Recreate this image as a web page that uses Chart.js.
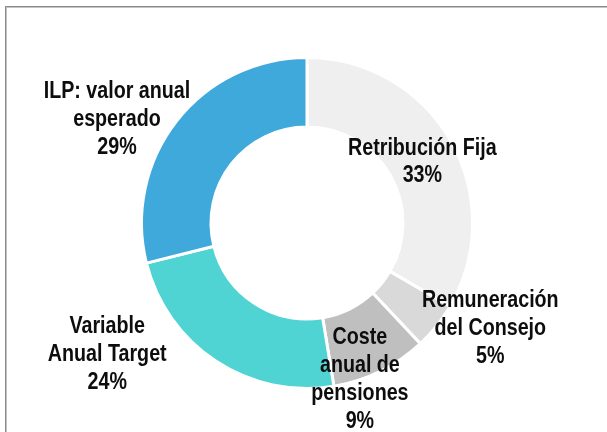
<!DOCTYPE html>
<html lang="es">
<head>
  <meta charset="UTF-8" />
  <title>Remuneración</title>
  <script src="https://cdn.jsdelivr.net/npm/chart.js"></script>
  <style>
    html, body {
      margin: 0;
      padding: 0;
      background: #ffffff;
      overflow: hidden;
    }

    .frame {
      position: absolute;
      left: 5px;
      top: 6px;
      width: 700px;
      height: 500px;
      border-left: 1px solid #8a8a8a;
      border-top: 1px solid #8a8a8a;
      box-shadow: inset 1px 1px 0 #c4c4c4;
    }

    .chart-container {
      position: absolute;
      left: 0;
      top: 0;
      width: 607px;
      height: 432px;
    }
  </style>
</head>
<body>

  <div class="frame"></div>
  <div class="chart-container">
    <canvas id="pieChart"></canvas>
  </div>

  <script>
    // categories (lines of each label) and shares
    const categories = [
      ["Retribución Fija"],
      ["Remuneración", "del Consejo"],
      ["Coste", "anual de", "pensiones"],
      ["Variable", "Anual Target"],
      ["ILP: valor anual", "esperado"]
    ];
    const shareValues = [33.4, 4.6, 9.4, 23.7, 28.9];
    const sliceColors = ["#efefef", "#d9d9d9", "#bfbfbf", "#50d3d3", "#3fa9dc"];

    // where each label sits, relative to the middle of its slice
    const labelOffsets = [[2, 4], [81, 24], [-5, 39], [-128, 22], [-87, -23]];

    const total = shareValues.reduce((a, b) => a + b, 0);

    // Excel-like data labels
    const sliceLabels = {
      id: "sliceLabels",
      afterDatasetsDraw(chart) {
        const ctx = chart.ctx;
        const arcs = chart.getDatasetMeta(0).data;
        ctx.save();
        ctx.font = "bold 24px 'Liberation Sans Narrow', 'Arial Narrow', sans-serif";
        let squeeze = 1;
        if (ctx.measureText("ILP: valor anual").width > 165) {
          ctx.font = "bold 24px 'Liberation Sans', Arial, sans-serif";
          squeeze = 0.82;
        }
        ctx.fillStyle = "#0d0d0d";
        ctx.textAlign = "center";
        ctx.textBaseline = "middle";
        const lineH = 27.8;
        arcs.forEach((arc, i) => {
          const p = arc.tooltipPosition();
          const x = p.x + labelOffsets[i][0];
          const y = p.y + labelOffsets[i][1];
          const lines = categories[i].concat([Math.round(shareValues[i] / total * 100) + "%"]);
          const top = y - (lines.length - 1) * lineH / 2;
          lines.forEach((t, j) => {
            ctx.save();
            ctx.translate(x, top + j * lineH);
            ctx.scale(squeeze, 1);
            ctx.fillText(t, 0, 0);
            ctx.restore();
          });
        });
        ctx.restore();
      }
    };

    new Chart(document.getElementById("pieChart"), {
      type: "doughnut",
      data: {
        labels: categories.map(c => c.join(" ")),
        datasets: [{
          data: shareValues,
          backgroundColor: sliceColors,
          borderColor: "#ffffff",
          borderWidth: 3
        }]
      },
      options: {
        responsive: true,
        maintainAspectRatio: false,
        animation: false,
        cutout: "58%",
        layout: {
          padding: { left: 10, right: 3, top: 56, bottom: 42 }
        },
        plugins: {
          legend: { display: false },
          tooltip: { enabled: false }
        }
      },
      plugins: [sliceLabels]
    });
  </script>

</body>
</html>
